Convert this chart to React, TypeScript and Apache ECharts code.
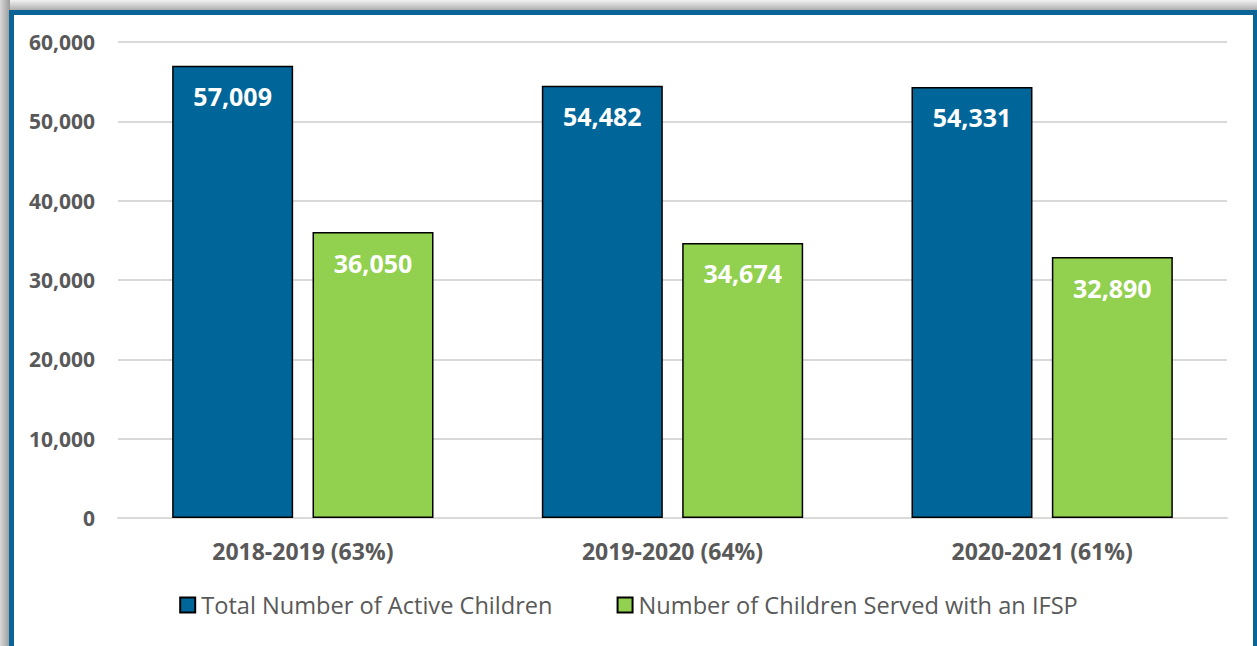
import React, { useEffect, useRef } from "react";
import * as echarts from "echarts";

const categories = ["2018-2019 (63%)", "2019-2020 (64%)", "2020-2021 (61%)"];
const activeChildren = [57009, 54482, 54331];
const servedIFSP = [36050, 34674, 32890];
const seriesNames = ["Total Number of Active Children", "Number of Children Served with an IFSP"];

export default function App() {
  const ref = useRef<HTMLDivElement>(null);
  useEffect(() => {
    if (!ref.current) return;
    const chart = echarts.init(ref.current, null, { renderer: "svg" });
    const font = "'Open Sans', 'Liberation Sans', sans-serif";
    const fmt = (v: number) => v.toLocaleString("en-US");
    chart.setOption({
      animation: false,
      backgroundColor: "#ffffff",
      textStyle: { fontFamily: font },
      graphic: [
        {
          type: "rect",
          silent: true,
          z: -10,
          shape: { x: 0, y: 0, width: 1257, height: 11 },
          style: {
            fill: new echarts.graphic.LinearGradient(0, 0, 0, 1, [
              { offset: 0, color: "#f2f2f2" },
              { offset: 1, color: "#a8a8a8" },
            ]),
          },
        },
        {
          type: "rect",
          silent: true,
          z: -10,
          shape: { x: 0, y: 0, width: 10, height: 646 },
          style: {
            fill: new echarts.graphic.LinearGradient(0, 0, 1, 0, [
              { offset: 0, color: "#d8d8d8" },
              { offset: 1, color: "#9a9a9a" },
            ]),
          },
        },
        {
          type: "rect",
          silent: true,
          z: -9,
          shape: { x: 11.5, y: 12.5, width: 1244, height: 700 },
          style: { fill: "#ffffff", stroke: "#0B6497", lineWidth: 5 },
        },
      ],
      grid: { left: 118, right: 30, top: 42, bottom: 128 },
      legend: {
        data: seriesNames,
        bottom: 24,
        left: "center",
        icon: "rect",
        itemWidth: 15,
        itemHeight: 15,
        itemGap: 64,
        textStyle: { fontSize: 23.6, color: "#595959", fontFamily: font, padding: [0, 0, 0, 1] },
      },
      xAxis: {
        type: "category",
        data: categories,
        axisLine: { lineStyle: { color: "#D9D9D9", width: 2 } },
        axisTick: { show: false },
        axisLabel: { fontSize: 23, fontWeight: "bold", color: "#595959", margin: 21, fontFamily: font },
      },
      yAxis: {
        type: "value",
        min: 0,
        max: 60000,
        interval: 10000,
        axisLine: { show: false },
        axisTick: { show: false },
        splitLine: { lineStyle: { color: "#D9D9D9", width: 2 } },
        axisLabel: {
          fontSize: 21,
          fontWeight: "bold",
          color: "#595959",
          margin: 23,
          fontFamily: font,
          formatter: (v: number) => fmt(v),
        },
      },
      series: [
        {
          name: seriesNames[0],
          type: "bar",
          data: activeChildren,
          barWidth: 121,
          barGap: "16%",
          itemStyle: { color: "#006699", borderColor: "#000000", borderWidth: 1.5 },
          label: {
            show: true,
            position: "insideTop",
            distance: 18,
            color: "#ffffff",
            fontSize: 25,
            fontWeight: "bold",
            fontFamily: font,
            formatter: (p: any) => fmt(p.value),
          },
        },
        {
          name: seriesNames[1],
          type: "bar",
          data: servedIFSP,
          barWidth: 121,
          itemStyle: { color: "#92D050", borderColor: "#000000", borderWidth: 1.5 },
          label: {
            show: true,
            position: "insideTop",
            distance: 18,
            color: "#ffffff",
            fontSize: 25,
            fontWeight: "bold",
            fontFamily: font,
            formatter: (p: any) => fmt(p.value),
          },
        },
      ],
    });
    return () => chart.dispose();
  }, []);
  return (
    <div
      ref={ref}
      style={{ position: "absolute", left: 0, top: 0, width: 1257, height: 646 }}
    />
  );
}
